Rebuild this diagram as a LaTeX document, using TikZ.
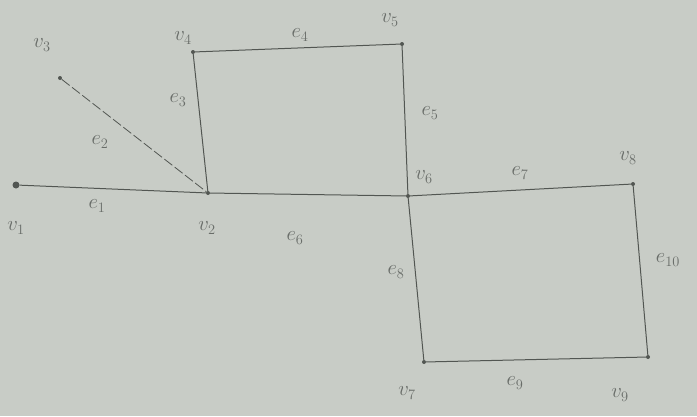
\documentclass[tikz,border=0pt]{standalone}
\begin{document}
\begin{tikzpicture}[x=1pt,y=-1pt,
  vtx/.style={circle,fill=ink,inner sep=0pt,minimum size=4pt},
  edge/.style={draw=ink,line width=1.0pt},
  lbl/.style={text=pencil,font=\huge,inner sep=0pt}]
\definecolor{paper}{RGB}{200,204,198}
\definecolor{ink}{RGB}{82,86,82}
\definecolor{pencil}{RGB}{105,109,105}
\fill[paper] (0,0) rectangle (697,416);
\useasboundingbox (0,0) rectangle (697,416);
% vertices
\node[vtx,minimum size=7pt] (v1) at (16,185) {};
\node[vtx] (v2) at (208,193) {};
\node[vtx] (v3) at (60,78) {};
\node[vtx] (v4) at (193,52) {};
\node[vtx] (v5) at (402,44) {};
\node[vtx] (v6) at (408,196) {};
\node[vtx] (v8) at (633,184) {};
\node[vtx] (v9) at (648,357) {};
\node[vtx] (v7) at (424,362) {};
% edges
\draw[edge] (v1) -- (v2);
\draw[edge,line width=0.8pt,dash pattern=on 10pt off 3pt] (v3) -- (v2);
\draw[edge] (v2) -- (v4);
\draw[edge] (v4) -- (v5);
\draw[edge] (v5) -- (v6);
\draw[edge] (v2) -- (v6);
\draw[edge] (v6) -- (v8);
\draw[edge] (v6) -- (v7);
\draw[edge] (v8) -- (v9);
\draw[edge] (v7) -- (v9);
% vertex labels
\node[lbl] (lv1) at (16,228) {$v_1$};
\node[lbl] (lv2) at (207,228) {$v_2$};
\node[lbl] (lv3) at (42,45) {$v_3$};
\node[lbl] (lv4) at (183,38) {$v_4$};
\node[lbl] (lv5) at (390,20) {$v_5$};
\node[lbl] (lv6) at (424,177) {$v_6$};
\node[lbl] (lv8) at (628,158) {$v_8$};
\node[lbl] (lv7) at (407,393) {$v_7$};
\node[lbl] (lv9) at (620,395) {$v_9$};
% edge labels
\node[lbl] (le1) at (97,206) {$e_1$};
\node[lbl] (le2) at (100,142) {$e_2$};
\node[lbl] (le3) at (178,100) {$e_3$};
\node[lbl] (le4) at (300,35) {$e_4$};
\node[lbl] (le5) at (430,113) {$e_5$};
\node[lbl] (le6) at (295,238) {$e_6$};
\node[lbl] (le7) at (520,173) {$e_7$};
\node[lbl] (le8) at (396,272) {$e_8$};
\node[lbl] (le9) at (515,383) {$e_9$};
\node[lbl] (le10) at (668,260) {$e_{10}$};
\end{tikzpicture}
\end{document}
